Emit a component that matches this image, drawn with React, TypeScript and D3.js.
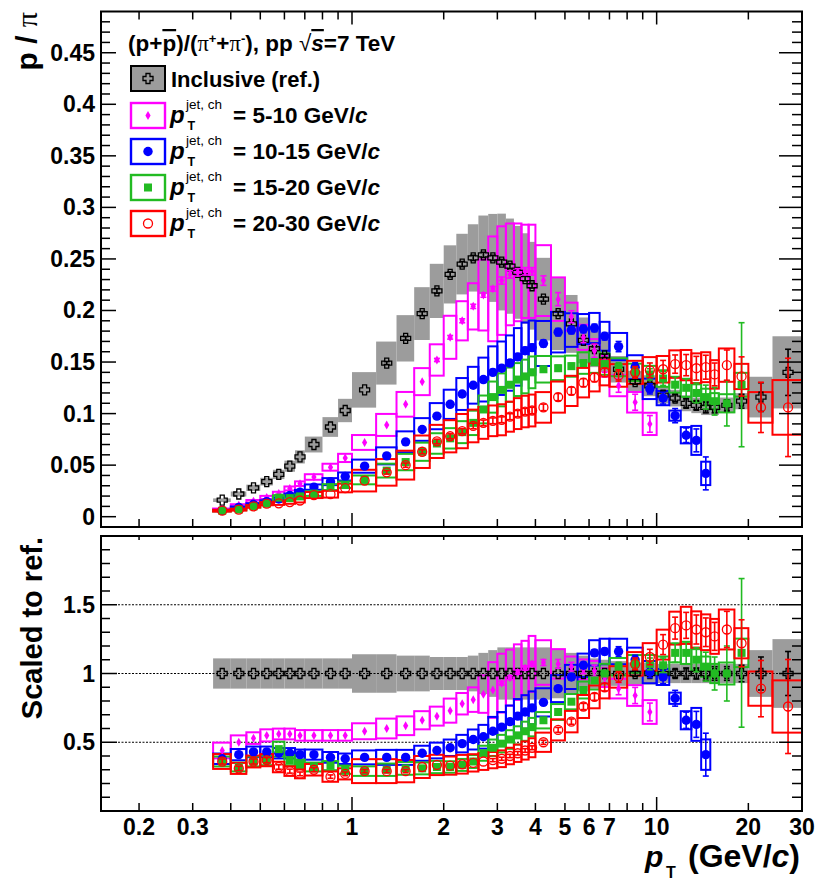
import React from "react";
import * as d3 from "d3";

// ---------------- DATA ----------------
const binEdges = [0.35, 0.4, 0.45, 0.5, 0.55, 0.6, 0.65, 0.7, 0.8, 0.9, 1.0, 1.2, 1.4, 1.6, 1.8, 2.0, 2.2, 2.4, 2.6, 2.8, 3.0, 3.2, 3.4, 3.6, 3.8, 4.0, 4.5, 5.0, 5.5, 6.0, 6.5, 7.0, 8, 9, 10, 11, 12, 13, 14, 15, 16, 18, 20, 24, 30];

// inclusive p/pi (reference)
const inclValues = [0.016, 0.022, 0.028, 0.034, 0.041, 0.049, 0.058, 0.070, 0.087, 0.103, 0.123, 0.149, 0.173, 0.197, 0.219, 0.235, 0.245, 0.251, 0.254, 0.251, 0.247, 0.243, 0.237, 0.231, 0.224, 0.211, 0.197, 0.187, 0.171, 0.163, 0.156, 0.143, 0.131, 0.127, 0.118, 0.115, 0.110, 0.108, 0.106, 0.106, 0.108, 0.112, 0.116, 0.140];
const inclScaled = [1, 1, 1, 1, 1, 1, 1, 1, 1, 1, 1, 1, 1, 1, 1, 1, 1, 1, 1, 1, 1, 1, 1, 1, 1, 1, 1, 1, 1, 1, 1, 1, 1, 1, 1, 1, 1, 1, 1, 1, 1, 1, 1, 1];
const inclSys = [0.11, 0.11, 0.11, 0.11, 0.11, 0.11, 0.11, 0.11, 0.11, 0.11, 0.14, 0.14, 0.13, 0.13, 0.12, 0.12, 0.12, 0.13, 0.15, 0.17, 0.19, 0.19, 0.19, 0.19, 0.19, 0.19, 0.18, 0.15, 0.13, 0.11, 0.10, 0.09, 0.08, 0.08, 0.07, 0.07, 0.07, 0.07, 0.07, 0.07, 0.07, 0.07, 0.17, 0.25];
const inclStat = [0.01, 0.01, 0.01, 0.01, 0.01, 0.01, 0.01, 0.01, 0.01, 0.01, 0.01, 0.01, 0.01, 0.01, 0.01, 0.01, 0.01, 0.01, 0.01, 0.01, 0.01, 0.01, 0.01, 0.01, 0.01, 0.01, 0.01, 0.01, 0.01, 0.01, 0.01, 0.01, 0.02, 0.02, 0.03, 0.03, 0.04, 0.04, 0.05, 0.05, 0.05, 0.06, 0.12, 0.16];

// jets 5-10 GeV/c
const jet5to10Values = [0.007, 0.011, 0.015, 0.0187, 0.0226, 0.0274, 0.032, 0.0385, 0.048, 0.057, 0.072, 0.089, 0.109, 0.131, 0.152, 0.174, 0.190, 0.204, 0.215, 0.221, 0.229, 0.235, 0.237, 0.238, 0.238, 0.229, 0.211, 0.194, 0.174, 0.161, 0.146, 0.127, 0.111, 0.090];
const jet5to10Scaled = [0.44, 0.50, 0.53, 0.55, 0.56, 0.56, 0.55, 0.55, 0.55, 0.55, 0.58, 0.60, 0.62, 0.66, 0.69, 0.73, 0.78, 0.81, 0.85, 0.88, 0.93, 0.97, 1.01, 1.04, 1.07, 1.08, 1.07, 1.05, 1.03, 1.02, 0.97, 0.89, 0.84, 0.72];
const jet5to10Sys = [0.13, 0.10, 0.08, 0.08, 0.07, 0.07, 0.07, 0.07, 0.07, 0.07, 0.10, 0.12, 0.11, 0.10, 0.10, 0.12, 0.10, 0.11, 0.16, 0.23, 0.23, 0.21, 0.20, 0.19, 0.19, 0.15, 0.10, 0.07, 0.07, 0.07, 0.07, 0.08, 0.09, 0.12];
const jet5to10Stat = [0.02, 0.01, 0.01, 0.01, 0.01, 0.01, 0.01, 0.01, 0.01, 0.01, 0.01, 0.01, 0.01, 0.01, 0.01, 0.01, 0.01, 0.01, 0.01, 0.01, 0.015, 0.015, 0.015, 0.015, 0.015, 0.02, 0.03, 0.03, 0.03, 0.04, 0.04, 0.05, 0.07, 0.09];

// jets 10-15 GeV/c
const jet10to15Values = [0.006, 0.009, 0.012, 0.0146, 0.0172, 0.0206, 0.0238, 0.0287, 0.034, 0.039, 0.049, 0.059, 0.0726, 0.0846, 0.0975, 0.109, 0.119, 0.1275, 0.133, 0.140, 0.144, 0.149, 0.155, 0.161, 0.164, 0.168, 0.179, 0.181, 0.182, 0.183, 0.175, 0.165, 0.145, 0.124, 0.115, 0.098, 0.079, 0.074, 0.042];
const jet10to15Scaled = [0.38, 0.41, 0.43, 0.43, 0.42, 0.42, 0.41, 0.41, 0.39, 0.38, 0.39, 0.39, 0.39, 0.42, 0.44, 0.46, 0.49, 0.52, 0.54, 0.58, 0.61, 0.65, 0.69, 0.72, 0.75, 0.79, 0.89, 0.975, 1.06, 1.15, 1.16, 1.16, 1.10, 1.01, 0.975, 0.82, 0.66, 0.63, 0.41];
const jet10to15Sys = [0.10, 0.10, 0.09, 0.09, 0.09, 0.09, 0.09, 0.09, 0.10, 0.10, 0.13, 0.14, 0.14, 0.13, 0.13, 0.13, 0.13, 0.14, 0.16, 0.18, 0.18, 0.18, 0.18, 0.17, 0.16, 0.13, 0.11, 0.09, 0.08, 0.08, 0.08, 0.08, 0.08, 0.08, 0.06, 0.05, 0.10, 0.19, 0.27];
const jet10to15Stat = [0.02, 0.02, 0.02, 0.02, 0.02, 0.02, 0.02, 0.02, 0.02, 0.02, 0.02, 0.02, 0.02, 0.02, 0.02, 0.02, 0.02, 0.02, 0.02, 0.02, 0.02, 0.02, 0.02, 0.02, 0.02, 0.02, 0.02, 0.02, 0.02, 0.02, 0.02, 0.03, 0.03, 0.04, 0.05, 0.07, 0.09, 0.15, 0.38];

// jets 15-20 GeV/c
const jet15to20Values = [0.0058, 0.007, 0.010, 0.0126, 0.0185, 0.018, 0.0197, 0.0224, 0.0287, 0.031, 0.0357, 0.0447, 0.053, 0.063, 0.071, 0.076, 0.082, 0.091, 0.104, 0.116, 0.123, 0.128, 0.133, 0.136, 0.140, 0.143, 0.144, 0.146, 0.149, 0.150, 0.148, 0.145, 0.140, 0.138, 0.134, 0.128, 0.125, 0.120, 0.116, 0.112, 0.110, 0.128];
const jet15to20Scaled = [0.36, 0.32, 0.36, 0.37, 0.45, 0.37, 0.34, 0.32, 0.33, 0.30, 0.29, 0.30, 0.31, 0.31, 0.32, 0.32, 0.335, 0.36, 0.42, 0.46, 0.49, 0.52, 0.55, 0.58, 0.61, 0.66, 0.72, 0.795, 0.88, 0.95, 1.0, 1.05, 1.07, 1.07, 1.06, 1.15, 1.15, 1.10, 1.05, 1.0, 1.0, 1.15];
const jet15to20Sys = [0.10, 0.10, 0.10, 0.10, 0.12, 0.10, 0.10, 0.10, 0.10, 0.10, 0.12, 0.15, 0.15, 0.14, 0.14, 0.13, 0.13, 0.13, 0.13, 0.13, 0.13, 0.13, 0.12, 0.12, 0.11, 0.09, 0.08, 0.07, 0.07, 0.07, 0.07, 0.06, 0.06, 0.06, 0.06, 0.06, 0.07, 0.07, 0.07, 0.07, 0.08, 0.09];
const jet15to20Stat = [0.03, 0.03, 0.02, 0.02, 0.02, 0.02, 0.02, 0.02, 0.02, 0.02, 0.02, 0.02, 0.02, 0.02, 0.02, 0.02, 0.02, 0.02, 0.02, 0.02, 0.02, 0.02, 0.02, 0.02, 0.02, 0.02, 0.02, 0.02, 0.02, 0.02, 0.02, 0.03, 0.03, 0.04, 0.05, 0.06, 0.07, 0.08, 0.10, 0.12, 0.20, 0.47];

// jets 20-30 GeV/c
const jet20to30Values = [0.0058, 0.0068, 0.010, 0.0126, 0.013, 0.0142, 0.0157, 0.021, 0.0218, 0.0278, 0.035, 0.043, 0.050, 0.063, 0.073, 0.078, 0.083, 0.088, 0.091, 0.093, 0.094, 0.097, 0.100, 0.102, 0.103, 0.106, 0.116, 0.122, 0.130, 0.135, 0.140, 0.137, 0.140, 0.142, 0.143, 0.148, 0.147, 0.144, 0.145, 0.138, 0.147, 0.136, 0.106, 0.106];
const jet20to30Scaled = [0.36, 0.31, 0.36, 0.37, 0.32, 0.29, 0.27, 0.30, 0.25, 0.27, 0.29, 0.29, 0.29, 0.32, 0.335, 0.33, 0.34, 0.35, 0.36, 0.37, 0.38, 0.40, 0.42, 0.44, 0.46, 0.50, 0.59, 0.65, 0.76, 0.83, 0.90, 0.975, 1.07, 1.12, 1.21, 1.33, 1.35, 1.32, 1.30, 1.27, 1.32, 1.22, 0.89, 0.76];
const jet20to30Sys = [0.15, 0.13, 0.12, 0.12, 0.12, 0.12, 0.12, 0.14, 0.15, 0.15, 0.30, 0.30, 0.28, 0.25, 0.22, 0.20, 0.20, 0.18, 0.17, 0.16, 0.16, 0.15, 0.15, 0.15, 0.15, 0.14, 0.13, 0.12, 0.11, 0.10, 0.09, 0.08, 0.08, 0.09, 0.09, 0.09, 0.10, 0.10, 0.10, 0.10, 0.11, 0.09, 0.14, 0.25];
const jet20to30Stat = [0.05, 0.05, 0.05, 0.05, 0.05, 0.05, 0.05, 0.05, 0.05, 0.05, 0.04, 0.04, 0.04, 0.03, 0.03, 0.03, 0.03, 0.03, 0.03, 0.03, 0.03, 0.03, 0.03, 0.03, 0.03, 0.03, 0.03, 0.03, 0.03, 0.03, 0.03, 0.04, 0.04, 0.05, 0.06, 0.06, 0.07, 0.08, 0.08, 0.08, 0.10, 0.14, 0.23, 0.45];

// axis ticks
const xLabelTicks = [0.2, 0.3, 1, 2, 3, 4, 5, 6, 7, 10, 20, 30];
const xMajorTicks = [1, 10];
const xMinorTicks = [0.2, 0.3, 0.4, 0.5, 0.6, 0.7, 0.8, 0.9, 2, 3, 4, 5, 6, 7, 8, 9, 20, 30];
const topYMajor = [0, 0.05, 0.1, 0.15, 0.2, 0.25, 0.3, 0.35, 0.4, 0.45];
const topYLabels = ["0", "0.05", "0.1", "0.15", "0.2", "0.25", "0.3", "0.35", "0.4", "0.45"];
const botYMajor = [0.5, 1, 1.5];
const botYLabels = ["0.5", "1", "1.5"];
const refLines = [0.5, 1, 1.5];

const jetLabels = ["5-10", "10-15", "15-20", "20-30"];

// ---------------- STYLE / GEOMETRY ----------------
const FONT = "'Liberation Sans', Arial, Helvetica, sans-serif";
const SERIF = "'Liberation Serif', 'DejaVu Serif', serif";
const X0 = 101, X1 = 802;
const TOP_Y0 = 11.5, TOP_Y1 = 527;
const BOT_Y0 = 536, BOT_Y1 = 811;
const GRAY = "#9c9c9c";

const x = d3.scaleLog().domain([0.15, 30]).range([X0, X1]);
const yTop = d3.scaleLinear().domain([-0.01, 0.49]).range([TOP_Y1, TOP_Y0]);
const yBot = d3.scaleLinear().domain([0, 2]).range([BOT_Y1, BOT_Y0]);

const jetSeries = [
  { label: jetLabels[0], color: "#ff00ff", marker: "diamond", top: jet5to10Values, scaled: jet5to10Scaled, sys: jet5to10Sys, stat: jet5to10Stat },
  { label: jetLabels[1], color: "#0000ff", marker: "circle", top: jet10to15Values, scaled: jet10to15Scaled, sys: jet10to15Sys, stat: jet10to15Stat },
  { label: jetLabels[2], color: "#22bb22", marker: "square", top: jet15to20Values, scaled: jet15to20Scaled, sys: jet15to20Sys, stat: jet15to20Stat },
  { label: jetLabels[3], color: "#ff0000", marker: "opencircle", top: jet20to30Values, scaled: jet20to30Scaled, sys: jet20to30Sys, stat: jet20to30Stat },
];

function Marker({ kind, cx, cy, color }: { kind: string; cx: number; cy: number; color: string }) {
  if (kind === "cross") {
    return <path d={`M${cx - 2},${cy - 5}h4v3h3v4h-3v3h-4v-3h-3v-4h3z`} fill="none" stroke="#000" strokeWidth={1.3} />;
  }
  if (kind === "diamond") {
    return <path d={`M${cx},${cy - 4.5}L${cx + 2.6},${cy}L${cx},${cy + 4.5}L${cx - 2.6},${cy}Z`} fill={color} />;
  }
  if (kind === "circle") {
    return <circle cx={cx} cy={cy} r={4.7} fill={color} />;
  }
  if (kind === "square") {
    return <rect x={cx - 4} y={cy - 4} width={8} height={8} fill={color} />;
  }
  return <circle cx={cx} cy={cy} r={4.5} fill="none" stroke={color} strokeWidth={1.3} />;
}

function center(i: number) {
  return (binEdges[i] + binEdges[i + 1]) / 2;
}

function Boxes({ vals, sys, y, color, fill, strokeWidth }: any) {
  return (
    <g>
      {vals.map((v: number, i: number) => {
        const xa = x(binEdges[i]);
        const xb = x(binEdges[i + 1]);
        const ya = y(v * (1 + sys[i]));
        const yb = y(v * (1 - sys[i]));
        return (
          <rect key={i} x={xa} y={ya} width={xb - xa} height={yb - ya}
            fill={fill} stroke={color} strokeWidth={strokeWidth} />
        );
      })}
    </g>
  );
}

function ErrBars({ vals, stat, y, color }: any) {
  return (
    <g stroke={color} strokeWidth={1.6}>
      {vals.map((v: number, i: number) => {
        const cx = x(center(i));
        const ya = y(v * (1 + stat[i]));
        const yb = y(v * (1 - stat[i]));
        if (yb - ya < 3) return null;
        return (
          <g key={i}>
            <line x1={cx} x2={cx} y1={ya} y2={yb} />
            <line x1={cx - 3} x2={cx + 3} y1={ya} y2={ya} />
            <line x1={cx - 3} x2={cx + 3} y1={yb} y2={yb} />
          </g>
        );
      })}
    </g>
  );
}

function Markers({ vals, y, kind, color }: any) {
  return (
    <g>
      {vals.map((v: number, i: number) => (
        <Marker key={i} kind={kind} cx={x(center(i))} cy={y(v)} color={color} />
      ))}
    </g>
  );
}

function Frame({ y0, y1, yMajor, yMinor, majL, minL, rMajL, rMinL, xMajB, xMinB, xMajT, xMinT }: any) {
  return (
    <g stroke="#000" fill="none">
      <rect x={X0} y={y0} width={X1 - X0} height={y1 - y0} strokeWidth={2} />
      <g strokeWidth={1.5}>
        {yMajor.map((p: number, i: number) => (
          <g key={"M" + i}>
            <line x1={X0} x2={X0 + majL} y1={p} y2={p} />
            <line x1={X1} x2={X1 - rMajL} y1={p} y2={p} />
          </g>
        ))}
        {yMinor.map((p: number, i: number) => (
          <g key={"m" + i}>
            <line x1={X0} x2={X0 + minL} y1={p} y2={p} />
            <line x1={X1} x2={X1 - rMinL} y1={p} y2={p} />
          </g>
        ))}
        {xMajorTicks.map((t, i) => (
          <g key={"xM" + i}>
            <line x1={x(t)} x2={x(t)} y1={y1} y2={y1 - xMajB} />
            <line x1={x(t)} x2={x(t)} y1={y0} y2={y0 + xMajT} />
          </g>
        ))}
        {xMinorTicks.map((t, i) => (
          <g key={"xm" + i}>
            <line x1={x(t)} x2={x(t)} y1={y1} y2={y1 - xMinB} />
            <line x1={x(t)} x2={x(t)} y1={y0} y2={y0 + xMinT} />
          </g>
        ))}
      </g>
    </g>
  );
}

export default function App() {
  const topMinor: number[] = d3.range(0.01, 0.485, 0.01).filter((v) => Math.abs(v / 0.05 - Math.round(v / 0.05)) > 0.01).map((v) => yTop(v));
  const botMinor: number[] = d3.range(0.1, 1.95, 0.1).filter((v) => Math.abs(v / 0.5 - Math.round(v / 0.5)) > 0.01).map((v) => yBot(v));

  const legendRows = [78.5, 115.5, 151.5, 187.5, 223.5];

  return (
    <svg width={821} height={882} style={{ position: "absolute", left: 0, top: 0, background: "#fff" }} fontFamily={FONT}>
      <defs>
        <clipPath id="clipTop"><rect x={X0} y={TOP_Y0} width={X1 - X0} height={TOP_Y1 - TOP_Y0} /></clipPath>
        <clipPath id="clipBot"><rect x={X0} y={BOT_Y0} width={X1 - X0} height={BOT_Y1 - BOT_Y0} /></clipPath>
      </defs>
      <rect x={0} y={0} width={821} height={882} fill="#fff" />

      {/* ---------- TOP PANEL ---------- */}
      <g clipPath="url(#clipTop)">
        <Boxes vals={inclValues} sys={inclSys} y={yTop} color="none" fill={GRAY} strokeWidth={0} />
        {jetSeries.map((s, k) => (
          <Boxes key={k} vals={s.top} sys={s.sys} y={yTop} color={s.color} fill="none" strokeWidth={2} />
        ))}
        <ErrBars vals={inclValues} stat={inclStat} y={yTop} color="#000" />
        <Markers vals={inclValues} y={yTop} kind="cross" color="#000" />
        {jetSeries.map((s, k) => (
          <g key={k}>
            <ErrBars vals={s.top} stat={s.stat} y={yTop} color={s.color} />
            <Markers vals={s.top} y={yTop} kind={s.marker} color={s.color} />
          </g>
        ))}
      </g>
      <Frame y0={TOP_Y0} y1={TOP_Y1} yMajor={topYMajor.map((v) => yTop(v))} yMinor={topMinor}
        majL={15} minL={9} rMajL={23} rMinL={10} xMajB={14} xMinB={8} xMajT={13} xMinT={8} />
      <g fontSize={23} fontWeight="bold" textAnchor="end">
        {topYMajor.map((v, i) => (
          <text key={i} x={95} y={yTop(v) + 8}>{topYLabels[i]}</text>
        ))}
      </g>

      {/* legend */}
      <text x={128} y={51} fontSize={22.5} fontWeight="bold">
        (p+<tspan style={{ textDecoration: "overline" }}>p</tspan>)/(
        <tspan fontFamily={SERIF} fontWeight="normal">π</tspan>
        <tspan dy={-8} fontSize={13}>+</tspan>
        <tspan dy={8}>+</tspan>
        <tspan fontFamily={SERIF} fontWeight="normal">π</tspan>
        <tspan dy={-8} fontSize={13}>-</tspan>
        <tspan dy={8}>), pp  </tspan>
        <tspan fontWeight="normal">√</tspan>
        <tspan fontStyle="italic" style={{ textDecoration: "overline" }}>s</tspan>
        <tspan>=7 TeV</tspan>
      </text>
      <rect x={131} y={legendRows[0] - 12.5} width={34} height={25} fill={GRAY} stroke="#000" strokeWidth={2} />
      <Marker kind="cross" cx={148} cy={legendRows[0]} color="#000" />
      <text x={171} y={legendRows[0] + 8} fontSize={22} fontWeight="bold">Inclusive (ref.)</text>
      {jetSeries.map((s, k) => {
        const cy = legendRows[k + 1];
        return (
          <g key={k}>
            <rect x={131} y={cy - 12.5} width={34} height={25} fill="#fff" stroke={s.color} strokeWidth={2.4} />
            <Marker kind={s.marker} cx={148} cy={cy} color={s.color} />
            <text x={170} y={cy + 7} fontSize={24} fontWeight="bold" fontStyle="italic">p</text>
            <text x={186} y={cy - 7} fontSize={13.5}>jet, ch</text>
            <text x={187.5} y={cy + 14} fontSize={12.5} fontWeight="bold">T</text>
            <text x={233} y={cy + 7} fontSize={22.5} fontWeight="bold">
              = {s.label} GeV/<tspan fontStyle="italic">c</tspan>
            </text>
          </g>
        );
      })}

      {/* y title top */}
      <text transform="translate(37,12) rotate(-90)" textAnchor="end" fontSize={30} fontWeight="bold">
        p / <tspan fontFamily={SERIF} fontWeight="normal">π</tspan>
      </text>

      {/* ---------- BOTTOM PANEL ---------- */}
      <g clipPath="url(#clipBot)">
        <Boxes vals={inclScaled} sys={inclSys} y={yBot} color="none" fill={GRAY} strokeWidth={0} />
        {refLines.map((v, i) => (
          <line key={i} x1={X0 + 17} x2={X1 - 23} y1={yBot(v)} y2={yBot(v)} stroke="#000" strokeWidth={1} strokeDasharray="2,1.5" />
        ))}
        {jetSeries.map((s, k) => (
          <Boxes key={k} vals={s.scaled} sys={s.sys} y={yBot} color={s.color} fill="none" strokeWidth={2} />
        ))}
        <ErrBars vals={inclScaled} stat={inclStat} y={yBot} color="#000" />
        <Markers vals={inclScaled} y={yBot} kind="cross" color="#000" />
        {jetSeries.map((s, k) => (
          <g key={k}>
            <ErrBars vals={s.scaled} stat={s.stat} y={yBot} color={s.color} />
            <Markers vals={s.scaled} y={yBot} kind={s.marker} color={s.color} />
          </g>
        ))}
      </g>
      <Frame y0={BOT_Y0} y1={BOT_Y1} yMajor={botYMajor.map((v) => yBot(v))} yMinor={botMinor}
        majL={16} minL={9} rMajL={23} rMinL={10} xMajB={14} xMinB={8} xMajT={8} xMinT={4} />
      <g fontSize={23} fontWeight="bold" textAnchor="end">
        {botYMajor.map((v, i) => (
          <text key={i} x={95} y={yBot(v) + 8}>{botYLabels[i]}</text>
        ))}
      </g>
      <g fontSize={23} fontWeight="bold" textAnchor="middle">
        {xLabelTicks.map((t, i) => (
          <text key={i} x={x(t)} y={835}>{String(t)}</text>
        ))}
      </g>
      <text transform="translate(42,537) rotate(-90)" textAnchor="end" fontSize={29} fontWeight="bold">Scaled to ref.</text>

      {/* x title */}
      <text x={645} y={867} fontSize={30} fontWeight="bold">
        <tspan fontStyle="italic">p</tspan>
      </text>
      <text x={666} y={878} fontSize={16} fontWeight="bold">T</text>
      <text x={800} y={867} fontSize={32} fontWeight="bold" textAnchor="end">
        (GeV/<tspan fontStyle="italic">c</tspan>)
      </text>
    </svg>
  );
}
